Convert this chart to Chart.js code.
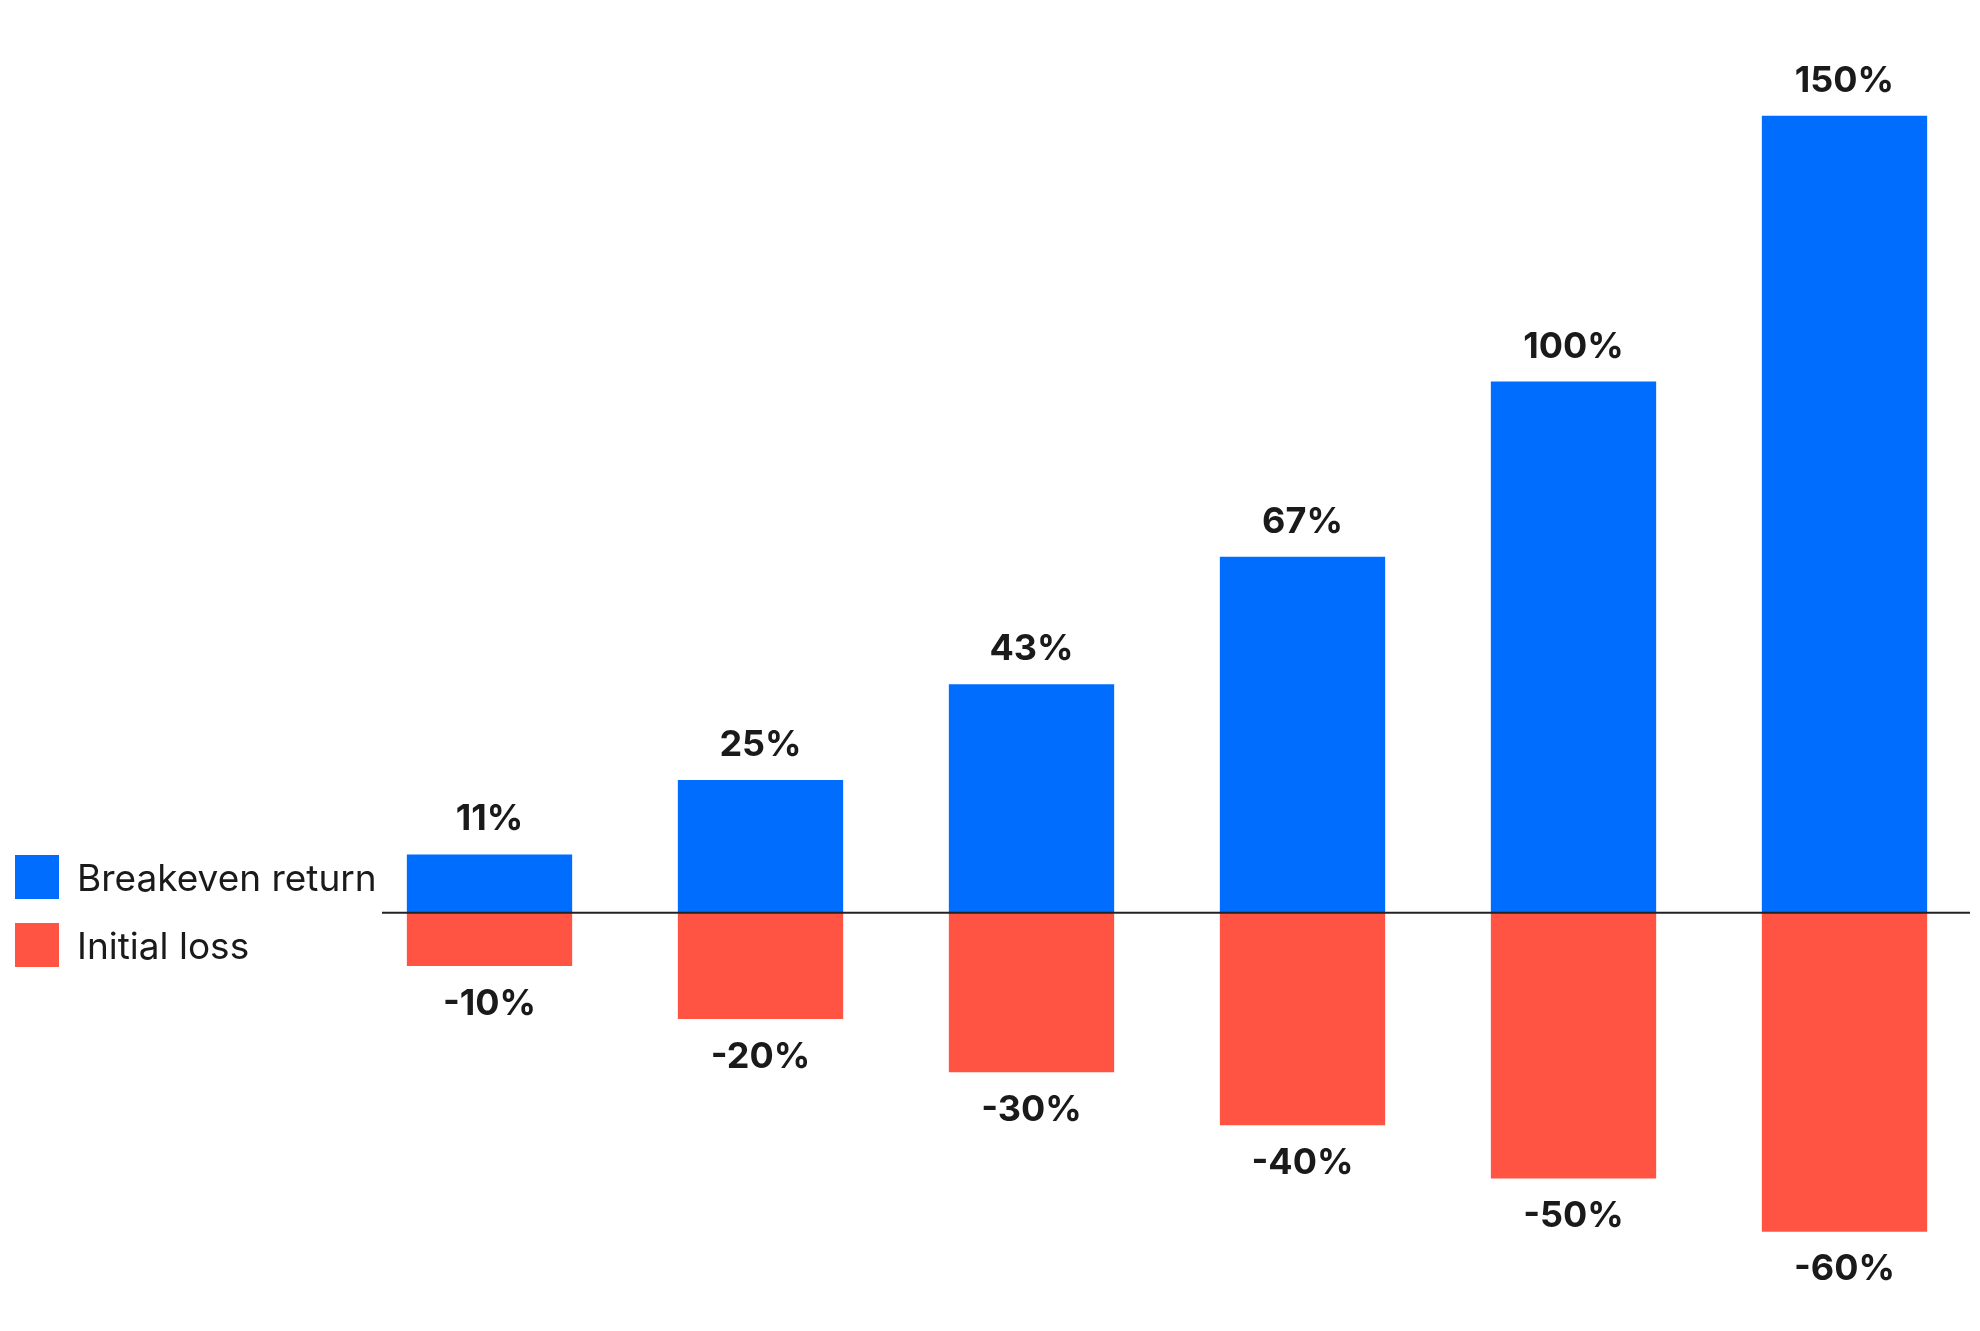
<!DOCTYPE html>
<html>
<head>
<meta charset="utf-8">
<script src="https://cdn.jsdelivr.net/npm/chart.js@4.4.0/dist/chart.umd.min.js"></script>
<style>
  html, body { margin: 0; padding: 0; background: #fff; }
  #wrap { position: relative; width: 1980px; height: 1331px; }
  #legend { position: absolute; left: 15px; top: 855px; font-family: Inter, "Noto Sans", sans-serif; font-size: 37px; color: #1a1a1a; }
  .item { display: flex; align-items: center; height: 44px; margin-bottom: 24px; }
  .sw { width: 44px; height: 44px; margin-right: 18px; }
</style>
</head>
<body>
<div id="wrap">
  <canvas id="chart" width="1980" height="1331"></canvas>
  <div id="legend"></div>
</div>
<script>
// data
const categories = ['-10%', '-20%', '-30%', '-40%', '-50%', '-60%'];
const breakevenReturn = [11, 25, 43, 67, 100, 150];
const initialLoss = [-10, -20, -30, -40, -50, -60];
const seriesNames = ['Breakeven return', 'Initial loss'];
const seriesColors = ['#006dff', '#ff5444'];

// legend as html
const legend = document.getElementById('legend');
seriesNames.forEach((name, i) => {
  const d = document.createElement('div');
  d.className = 'item';
  d.innerHTML = '<span class="sw" style="background:' + seriesColors[i] + '"></span><span>' + name + '</span>';
  legend.appendChild(d);
});

// zero line + value labels
const labelPlugin = {
  id: 'labels',
  afterDatasetsDraw(chart) {
    const ctx = chart.ctx;
    const y = chart.scales.y;
    const area = chart.chartArea;
    const y0 = y.getPixelForValue(0);
    ctx.save();
    ctx.strokeStyle = '#222';
    ctx.lineWidth = 2;
    ctx.beginPath();
    ctx.moveTo(area.left + 28, y0);
    ctx.lineTo(area.right - 10, y0);
    ctx.stroke();

    ctx.font = '700 36px Inter, "Noto Sans", sans-serif';
    ctx.fillStyle = '#1a1a1a';
    ctx.textAlign = 'center';
    chart.data.datasets.forEach((ds, di) => {
      chart.getDatasetMeta(di).data.forEach((bar, i) => {
        const v = ds.data[i];
        if (v >= 0) {
          ctx.textBaseline = 'alphabetic';
          ctx.fillText(v + '%', bar.x, bar.y - 24);
        } else {
          ctx.textBaseline = 'top';
          ctx.fillText(v + '%', bar.x, bar.y + 20);
        }
      });
    });
    ctx.restore();
  }
};

new Chart(document.getElementById('chart').getContext('2d'), {
  type: 'bar',
  data: {
    labels: categories,
    datasets: [
      { label: seriesNames[0], data: breakevenReturn, backgroundColor: seriesColors[0] },
      { label: seriesNames[1], data: initialLoss, backgroundColor: seriesColors[1] }
    ]
  },
  options: {
    responsive: false,
    animation: false,
    layout: { padding: { left: 354, right: 0, top: 0, bottom: 0 } },
    plugins: { legend: { display: false }, tooltip: { enabled: false } },
    scales: {
      x: { stacked: true, display: false },
      y: { stacked: true, display: false, min: -78.7, max: 171.8 }
    },
    datasets: { bar: { categoryPercentage: 1, barPercentage: 0.61 } }
  },
  plugins: [labelPlugin]
});
</script>
</body>
</html>
